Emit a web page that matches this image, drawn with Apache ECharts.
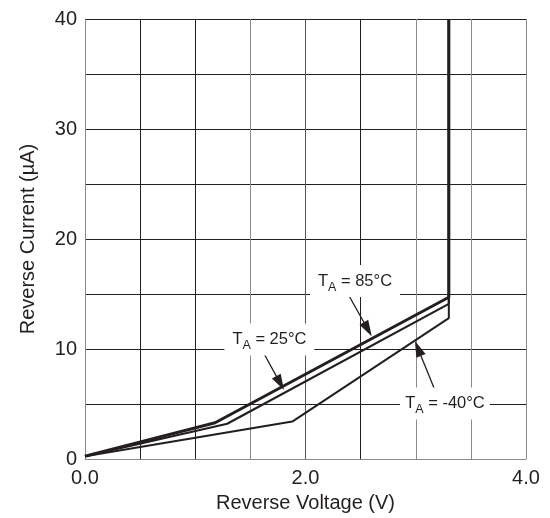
<!DOCTYPE html>
<html>
<head>
<meta charset="utf-8">
<script src="https://cdn.jsdelivr.net/npm/echarts@6/dist/echarts.min.js"></script>
<style>
html,body{margin:0;padding:0;background:#fff;}
#chart{width:550px;height:518px;}
</style>
</head>
<body>
<div id="chart"></div>
<script>
// ---- data ----
const volt85 = [0, 1.18, 3.30, 3.30];
const curr85 = [0.25, 3.3, 14.7, 40];
const volt25 = [0, 1.29, 3.30, 3.30];
const curr25 = [0.25, 3.2, 14.1, 40];
const voltM40 = [0, 1.88, 3.30, 3.30];
const currM40 = [0.25, 3.4, 12.8, 40];

const xTickLabels = ['0.0', '2.0', '4.0'];
const yTickLabels = ['0', '10', '20', '30', '40'];

// annotation labels: [voltage, current] of label centre, and arrow start/end
const labelTemps = ['85°C', '25°C', '-40°C'];
const labelPos = [[2.449, 16.18], [1.673, 10.86], [3.265, 5.05]];
const arrowFrom = [[2.388, 14.95], [1.603, 9.95], [3.19, 5.86]];
const arrowTo = [[2.565, 11.80], [1.770, 6.90], [3.020, 10.05]];

const ink = '#231f20';
const gray = '#8a8a8a';
const font = '"Liberation Sans", Arial, sans-serif';

function pairs(xs, ys) { return xs.map((x, i) => [x, ys[i]]); }

function annot(i) {
  return {
    markLine: {
      silent: true,
      animation: false,
      symbol: ['none', 'triangle'],
      symbolSize: [10, 16],
      label: { show: false },
      lineStyle: { color: ink, width: 1.3, type: 'solid' },
      emphasis: { disabled: true },
      data: [[{ coord: arrowFrom[i] }, { coord: arrowTo[i] }]]
    },
    markPoint: {
      silent: true,
      animation: false,
      symbol: 'rect',
      symbolSize: [90, 32],
      itemStyle: { color: '#fff' },
      label: {
        show: true,
        position: 'inside',
        formatter: '{m|T}{s|A}{m| = ' + labelTemps[i] + '}',
        rich: {
          m: { fontFamily: font, fontSize: 16.5, color: ink, lineHeight: 18 },
          s: { fontFamily: font, fontSize: 12.5, color: ink, lineHeight: 16, padding: [13, 0, 0, 0] }
        }
      },
      data: [{ coord: labelPos[i] }]
    }
  };
}

const xColors = [gray, ink, ink, gray, '#555', ink, gray, gray, gray];
const yColors = [gray, ink, ink, ink, ink, ink, ink, ink, ink];

const chart = echarts.init(document.getElementById('chart'), null, { renderer: 'canvas' });
chart.setOption({
  animation: false,
  backgroundColor: '#fff',
  grid: { left: 85, right: 24, top: 19, bottom: 58, containLabel: false },
  xAxis: {
    type: 'value', min: 0, max: 4, interval: 0.5,
    name: 'Reverse Voltage (V)', nameLocation: 'middle', nameGap: 34,
    nameTextStyle: { fontFamily: font, fontSize: 20, color: ink },
    axisLine: { show: true, lineStyle: { color: gray, width: 1 } },
    axisTick: { show: false },
    axisLabel: {
      fontFamily: font, fontSize: 20, color: ink, margin: 9,
      formatter: v => { const s = v.toFixed(1); return xTickLabels.includes(s) ? s : ''; }
    },
    splitLine: { show: true, showMinLine: true, showMaxLine: true, lineStyle: { color: xColors, width: 1 } }
  },
  yAxis: {
    type: 'value', min: 0, max: 40, interval: 5,
    name: 'Reverse Current (µA)', nameLocation: 'middle', nameGap: 47, nameRotate: 90,
    nameTextStyle: { fontFamily: font, fontSize: 20, color: ink },
    axisLine: { show: true, lineStyle: { color: gray, width: 1 } },
    axisTick: { show: false },
    axisLabel: {
      fontFamily: font, fontSize: 20, color: ink, margin: 8,
      formatter: v => { const s = String(v); return yTickLabels.includes(s) ? s : ''; }
    },
    splitLine: { show: true, showMinLine: true, showMaxLine: true, lineStyle: { color: yColors, width: 1 } }
  },
  series: [
    Object.assign({
      name: 'T_A = -40°C', type: 'line', data: pairs(voltM40, currM40),
      showSymbol: false, symbol: 'none', lineStyle: { color: ink, width: 2 }, z: 3
    }, annot(2)),
    Object.assign({
      name: 'T_A = 25°C', type: 'line', data: pairs(volt25, curr25),
      showSymbol: false, symbol: 'none', lineStyle: { color: ink, width: 2.2 }, z: 3
    }, annot(1)),
    Object.assign({
      name: 'T_A = 85°C', type: 'line', data: pairs(volt85, curr85),
      showSymbol: false, symbol: 'none', lineStyle: { color: ink, width: 3 }, z: 3
    }, annot(0))
  ]
});
</script>
</body>
</html>
